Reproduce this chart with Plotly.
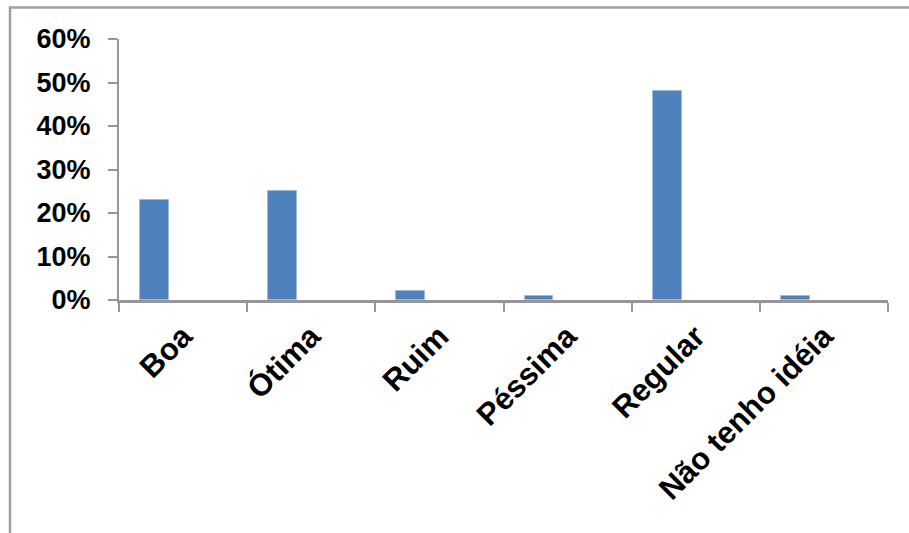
import plotly.graph_objects as go

# Survey answers and their share of responses (%)
categories = ["Boa", "Ótima", "Ruim", "Péssima", "Regular", "Não tenho idéia"]
shares = [23, 25, 2, 1, 48, 1]
y_ticks = [0, 10, 20, 30, 40, 50, 60]

axis_grey = "#969696"
bar_blue = "#4F81BD"
font_family = "Liberation Sans, Arial, sans-serif"
y_font = dict(family=font_family, size=27, color="#000000", weight="bold")
x_font = dict(family=font_family, size=31, color="#000000", weight="bold")

fig = go.Figure()
fig.add_trace(go.Bar(
    x=categories,
    y=shares,
    width=0.226,
    offset=-0.336,
    marker=dict(color=bar_blue, line=dict(color="#9DB9DC", width=1)),
    showlegend=False,
    hoverinfo="x+y",
))

W, H = 909, 533
L, R, T, B = 119, 21, 39, 233
pw, ph = W - L - R, H - T - B


def px_x(x):
    return (x - L) / pw


def px_y(y):
    return (H - B - y) / ph


fig.update_layout(
    width=W,
    height=H,
    margin=dict(l=L, r=R, t=T, b=B, pad=0),
    paper_bgcolor="white",
    plot_bgcolor="white",
    bargap=0,
    xaxis=dict(
        type="category",
        range=[-0.5, len(categories) - 0.5],
        tickson="boundaries",
        ticks="outside",
        ticklen=9,
        tickwidth=1.5,
        tickcolor=axis_grey,
        showline=True,
        linecolor=axis_grey,
        linewidth=2.5,
        showgrid=False,
        zeroline=False,
        tickangle=-45,
        tickfont=x_font,
        ticklabelstandoff=3,
        fixedrange=True,
    ),
    yaxis=dict(
        range=[0, 60],
        tickvals=y_ticks,
        ticktext=[f"{v}%" for v in y_ticks],
        ticks="outside",
        ticklen=9,
        tickwidth=1.5,
        tickcolor=axis_grey,
        showline=True,
        linecolor=axis_grey,
        linewidth=2,
        showgrid=False,
        zeroline=False,
        tickfont=y_font,
        ticklabelstandoff=12,
        fixedrange=True,
    ),
    shapes=[
        # chart frame (top and left edges)
        dict(type="line", xref="paper", yref="paper",
             x0=px_x(9), x1=px_x(W + 5), y0=px_y(7.5), y1=px_y(7.5),
             line=dict(color="#A0A0A0", width=2.5)),
        dict(type="line", xref="paper", yref="paper",
             x0=px_x(10), x1=px_x(10), y0=px_y(6.5), y1=px_y(H + 5),
             line=dict(color="#A0A0A0", width=2.5)),
    ],
)

fig.write_html("out.html")
